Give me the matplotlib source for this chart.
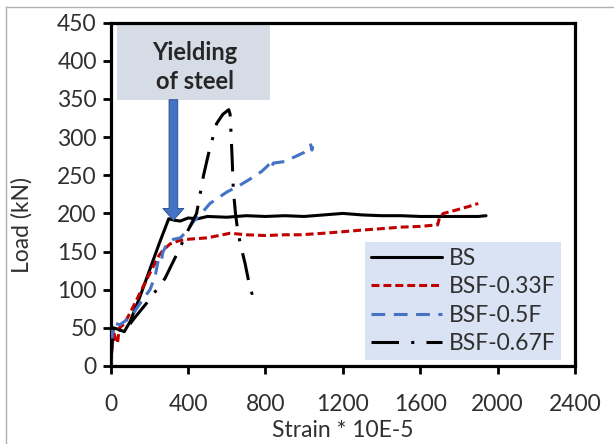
import matplotlib
matplotlib.use("Agg")
import matplotlib.pyplot as plt
from matplotlib.patches import Rectangle
from matplotlib.lines import Line2D

# ---- data ----
bs_strain = [0, 8, 15, 40, 70, 100, 150, 200, 250, 300, 330, 360, 400, 450, 500, 600, 700, 800,
             900, 1000, 1100, 1200, 1300, 1400, 1500, 1600, 1700, 1800, 1900, 1940]
bs_load = [0, 40, 50, 48, 45, 58, 90, 125, 160, 193, 191, 190, 194, 193, 196, 195, 197, 196,
           197, 196, 198, 200, 198, 197, 197, 196, 196, 196, 196, 197]

f33_strain = [0, 5, 15, 25, 35, 45, 70, 117, 160, 203, 250, 272, 307, 350, 393, 500, 617, 700,
              800, 900, 980, 1100, 1200, 1290, 1400, 1500, 1600, 1690, 1700, 1720, 1780, 1850, 1900]
f33_load = [0, 20, 45, 35, 30, 50, 55, 78, 100, 122, 145, 152, 160, 164, 166, 168, 174, 172,
            171, 172, 172, 174, 176, 178, 180, 182, 183, 185, 195, 200, 204, 209, 213]

f50_strain = [0, 5, 10, 20, 48, 80, 117, 160, 203, 230, 246, 262, 268, 290, 324, 360, 391, 430,
              462, 513, 600, 668, 720, 780, 810, 824, 830, 841, 900, 950, 1000, 1020, 1034, 1040, 1045]
f50_load = [0, 30, 50, 56, 54, 60, 69, 85, 100, 118, 139, 136, 148, 160, 166, 168, 176, 190,
            198, 213, 228, 237, 245, 255, 262, 266, 260, 266, 268, 274, 280, 285, 290, 283, 288]

f67_strain = [0, 10, 30, 74, 120, 194, 281, 358, 400, 444, 480, 510, 548, 580, 610, 617, 622,
              628, 634, 645, 655, 670, 694, 710, 722, 730, 745, 765]
f67_load = [0, 40, 48, 46, 62, 85, 115, 155, 178, 200, 250, 283, 318, 330, 336, 330, 305,
            270, 230, 200, 180, 160, 135, 115, 100, 95, 97, 97]

series_labels = ["BS", "BSF-0.33F", "BSF-0.5F", "BSF-0.67F"]
x_ticks = [0, 400, 800, 1200, 1600, 2000, 2400]
y_ticks = [0, 50, 100, 150, 200, 250, 300, 350, 400, 450]

yield_strain = 324
yield_load = 191
box_top_load = 349

# ---- styling ----
plt.rcParams['font.family'] = ['Lato', 'DejaVu Sans']
txt_color = '#303030'
fs = 16.5

fig = plt.figure(figsize=(6.14, 4.44), dpi=100)
ax = fig.add_axes([0.1803, 0.1757, 0.9365 - 0.1803, 0.9489 - 0.1757])

lw = 2.2
ax.plot(bs_strain, bs_load, color='black', lw=lw, solid_capstyle='round', label=series_labels[0], zorder=3)
ax.plot(f33_strain, f33_load, color='#C00000', lw=lw, dashes=(2.6, 1.3), label=series_labels[1], zorder=3)
ax.plot(f50_strain, f50_load, color='#4472C4', lw=lw, dashes=(4.5, 2.8), label=series_labels[2], zorder=3)
ax.plot(f67_strain, f67_load, color='black', lw=lw, dashes=(9, 4, 1, 4), label=series_labels[3], zorder=3)

ax.set_xlim(x_ticks[0], x_ticks[-1])
ax.set_ylim(y_ticks[0], y_ticks[-1])
ax.set_xticks(x_ticks)
ax.set_yticks(y_ticks)
ax.tick_params(axis='both', direction='out', length=6, width=2, labelsize=fs, colors='black',
               labelcolor=txt_color)
ax.tick_params(axis='y', pad=4)
ax.tick_params(axis='x', pad=14)
for s in ax.spines.values():
    s.set_linewidth(2.3)
    s.set_color('black')

ax.set_xlabel("Strain * 10E-5", fontsize=fs, color=txt_color, labelpad=4)
ax.set_ylabel("Load (kN)", fontsize=fs, color=txt_color)
ax.yaxis.set_label_coords(-0.168, 0.41)

# annotation box
box = Rectangle((0.0136, 0.775), 0.343 - 0.0136, 0.225, transform=ax.transAxes,
                facecolor='#D6DCE5', edgecolor='none', zorder=2, clip_on=False)
ax.add_patch(box)
ax.text(0.1816, 0.871, "Yielding\nof steel", transform=ax.transAxes, ha='center', va='center',
        fontsize=17, fontweight='bold', color='#262626', linespacing=1.32, zorder=4)
ax.annotate("", xy=(yield_strain, yield_load), xytext=(yield_strain, box_top_load),
            arrowprops=dict(arrowstyle="simple,head_length=0.85,head_width=1.5,tail_width=0.62",
                            mutation_scale=10, facecolor='#4472C4', edgecolor='#2F528F', lw=0.7,
                            shrinkA=0, shrinkB=0), zorder=5)

leg = ax.legend(loc='lower left', bbox_to_anchor=(0.5477, 0.0175), borderaxespad=0,
                fontsize=fs, frameon=True, fancybox=False, framealpha=1,
                facecolor='#DAE3F3', edgecolor='none', handlelength=3.1, handletextpad=0.3,
                labelspacing=0.33, borderpad=0.25)
for t in leg.get_texts():
    t.set_color(txt_color)

# outer chart frame
fig.add_artist(Line2D([6/614, 1], [1 - 7/444, 1 - 7/444], transform=fig.transFigure,
                      color='#B0B0B0', lw=1))
fig.add_artist(Line2D([6/614, 6/614], [0, 1 - 7/444], transform=fig.transFigure,
                      color='#B0B0B0', lw=1))

fig.savefig("out.png", dpi=100)
